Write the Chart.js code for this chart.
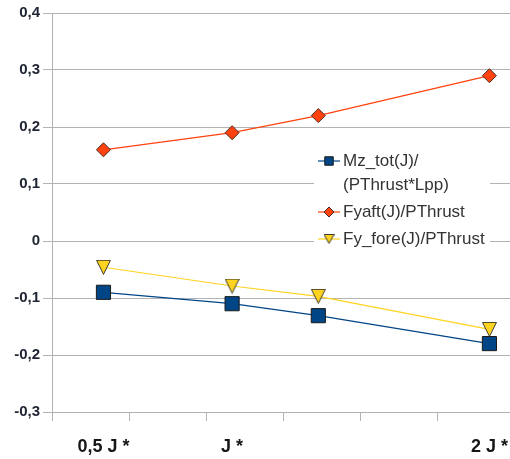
<!DOCTYPE html>
<html>
<head>
<meta charset="utf-8">
<script src="https://cdn.jsdelivr.net/npm/chart.js@4.4.1/dist/chart.umd.min.js"></script>
<style>
  html, body { margin: 0; padding: 0; background: #fff; overflow: hidden; }
  #wrap { width: 510px; height: 459px; }
</style>
</head>
<body>
<div id="wrap"><canvas id="c" width="510" height="459"></canvas></div>
<script>
// Advance-ratio positions of the four measurement points
const xValues = [0.5, 1.0, 1.335, 2.0];
// Bottom labels and where they sit on the J axis
const xTickLabels = ['0,5 J *', 'J *', '2 J *'];
const xTickLabelValues = [0.5, 1.0, 2.0];
// Tick marks along the bottom axis
const xMarkValues = [0.3, 0.6, 0.9, 1.2, 1.5, 1.8];
// Vertical axis ticks
const yTickValues = [-0.3, -0.2, -0.1, 0, 0.1, 0.2, 0.3, 0.4];

// Series values
const mzTot = [-0.09, -0.11, -0.131, -0.18];
const fyAft = [0.16, 0.19, 0.22, 0.29];
const fyFore = [-0.046, -0.079, -0.097, -0.155];

// Legend text (first entry wraps onto two lines)
const seriesNames = [['Mz_tot(J)/', '(PThrust*Lpp)'], ['Fyaft(J)/PThrust'], ['Fy_fore(J)/PThrust']];

const BLUE = '#004586', RED = '#ff420e', YELLOW = '#ffd320';

// Downward-pointing triangle marker, drawn into its own small canvas
function downTriangle(w, h, fill, stroke) {
  const c = document.createElement('canvas');
  c.width = w; c.height = h;
  const g = c.getContext('2d');
  g.beginPath();
  g.moveTo(0.5, 0.5);
  g.lineTo(w - 0.5, 0.5);
  g.lineTo(w / 2, h - 0.5);
  g.closePath();
  g.fillStyle = fill; g.fill();
  g.lineWidth = 1; g.strokeStyle = stroke; g.stroke();
  return c;
}
const triBig = downTriangle(15, 15, YELLOW, '#3a3a2a');
const triSmall = downTriangle(11, 10, YELLOW, '#3a3a2a');

function toPoints(ys) { return ys.map((y, i) => ({ x: xValues[i], y: y })); }
function fmt(v) {
  if (Math.abs(v) < 1e-9) return '0';
  return v.toFixed(1).replace('.', ',');
}

const X_MIN = 0.3, X_MAX = 2.08;

// Legend drawn inside the plot on a white panel
const insideLegend = {
  id: 'insideLegend',
  afterDatasetsDraw(chart, args, o) {
    const ctx = chart.ctx;
    ctx.save();
    ctx.fillStyle = '#ffffff';
    ctx.fillRect(o.x, o.y, o.width, o.height);
    let y = o.y + o.firstLine;
    chart.data.datasets.forEach((ds, i) => {
      const mk = o.markers[i];
      ctx.strokeStyle = ds.borderColor;
      ctx.lineWidth = 1.2;
      ctx.beginPath();
      ctx.moveTo(o.x + 4, y);
      ctx.lineTo(o.x + 26, y);
      ctx.stroke();
      ctx.fillStyle = ds.pointBackgroundColor;
      ctx.strokeStyle = ds.pointBorderColor;
      ctx.lineWidth = 1;
      Chart.helpers.drawPoint(ctx, { pointStyle: mk.style, radius: mk.radius, borderWidth: 1, rotation: 0 }, o.x + 15, y);
      ctx.fillStyle = '#333333';
      ctx.font = '17px "Liberation Sans", Arial, sans-serif';
      ctx.textBaseline = 'middle';
      ctx.textAlign = 'left';
      const lines = seriesNames[i];
      lines.forEach((t, k) => ctx.fillText(t, o.x + 29, y + k * o.lineHeight));
      y += lines.length * o.lineHeight + o.gap;
    });
    ctx.restore();
  }
};

// Keep the plot running right up to the canvas edges
function noSidePadding(s) { s.paddingLeft = 0; s.paddingRight = 0; }

Chart.defaults.font.family = '"Liberation Sans", Arial, sans-serif';

new Chart(document.getElementById('c'), {
  type: 'line',
  data: {
    datasets: [
      {
        label: seriesNames[0].join(' '),
        data: toPoints(mzTot),
        borderColor: BLUE, borderWidth: 1.2,
        pointStyle: 'rect', pointRadius: 10,
        pointBackgroundColor: BLUE, pointBorderColor: '#1a1a1a', pointBorderWidth: 1
      },
      {
        label: seriesNames[1].join(' '),
        data: toPoints(fyAft),
        borderColor: RED, borderWidth: 1.2,
        pointStyle: 'rectRot', pointRadius: 7,
        pointBackgroundColor: RED, pointBorderColor: '#4a2a20', pointBorderWidth: 1
      },
      {
        label: seriesNames[2].join(' '),
        data: toPoints(fyFore),
        borderColor: YELLOW, borderWidth: 1.2,
        pointStyle: triBig, pointRadius: 7,
        pointBackgroundColor: YELLOW, pointBorderColor: '#3a3a2a', pointBorderWidth: 1
      }
    ]
  },
  options: {
    responsive: false,
    animation: false,
    events: [],
    layout: { autoPadding: false, padding: { top: 13, left: 0, right: 0, bottom: 0 } },
    elements: { line: { tension: 0 } },
    plugins: {
      legend: { display: false },
      tooltip: { enabled: false },
      insideLegend: {
        x: 314, y: 146, width: 176, height: 106,
        firstLine: 15, lineHeight: 24, gap: 3,
        markers: [
          { style: 'rect', radius: 6 },
          { style: 'rectRot', radius: 5 },
          { style: triSmall, radius: 5 }
        ]
      }
    },
    scales: {
      x: {
        type: 'linear', position: 'bottom', weight: 0,
        min: X_MIN, max: X_MAX,
        afterBuildTicks: s => { s.ticks = xMarkValues.map(v => ({ value: v })); },
        afterFit: s => { s.height = 9; noSidePadding(s); },
        grid: { drawOnChartArea: false, drawTicks: true, tickLength: 9, color: '#b3b3b3', lineWidth: 1 },
        border: { display: true, color: '#b3b3b3', width: 1 },
        ticks: { display: false }
      },
      x2: {
        type: 'linear', position: 'bottom', weight: 1,
        min: X_MIN, max: X_MAX,
        afterBuildTicks: s => { s.ticks = xTickLabelValues.map(v => ({ value: v })); },
        afterFit: s => { s.height = 38; noSidePadding(s); },
        grid: { display: false, drawTicks: false },
        border: { display: false },
        ticks: {
          autoSkip: false, maxRotation: 0, minRotation: 0, padding: 15,
          color: '#161616',
          font: { size: 18, weight: 'bold' },
          callback: (v, i) => xTickLabels[i]
        }
      },
      y: {
        type: 'linear', position: 'left',
        min: -0.3, max: 0.4,
        afterBuildTicks: s => { s.ticks = yTickValues.map(v => ({ value: v })); },
        afterFit: s => { s.width = 52; },
        grid: { color: '#b3b3b3', lineWidth: 1, drawTicks: true, tickLength: 9 },
        border: { display: true, color: '#b3b3b3', width: 1 },
        ticks: {
          padding: 3,
          color: '#1f2433',
          font: { size: 15, weight: 'bold' },
          callback: v => fmt(v)
        }
      }
    }
  },
  plugins: [insideLegend]
});
</script>
</body>
</html>
